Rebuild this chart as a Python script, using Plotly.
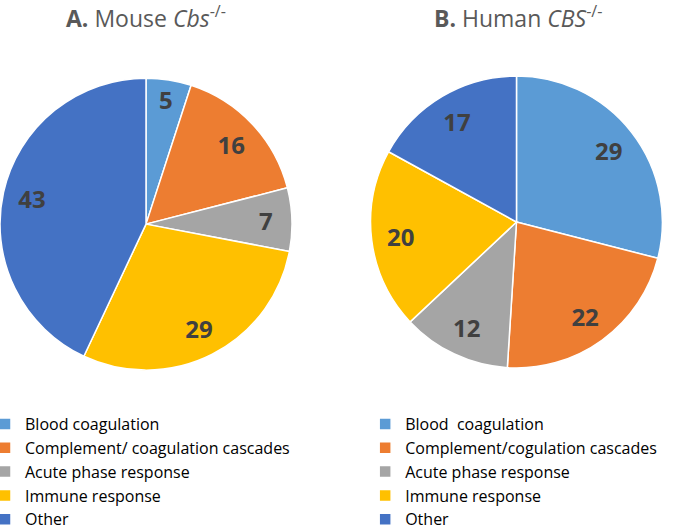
import plotly.graph_objects as go

labels_a = ["Blood coagulation", "Complement/ coagulation cascades", "Acute phase response", "Immune response", "Other"]
values_a = [5, 16, 7, 29, 43]
labels_b = ["Blood\u00a0 coagulation", "Complement/cogulation cascades", "Acute phase response ", "Immune response ", "Other "]
values_b = [29, 22, 12, 20, 17]
colors = ["#5B9BD5", "#ED7D31", "#A5A5A5", "#FFC000", "#4472C4"]

dom_a = dict(x=[0.0, 0.4263], y=[0.299, 0.852])
dom_b = dict(x=[0.541, 0.967], y=[0.303, 0.856])

fig = go.Figure()
base = dict(sort=False, direction="clockwise", rotation=0, hoverinfo="label+value")
# full pie: colours, white separators and legend entries
under = dict(base, textinfo="none",
             marker=dict(colors=colors, line=dict(color="white", width=1.5)))
# transparent ring on top: only carries the value labels out near the rim
ring = dict(base, hole=0.6, textinfo="value", textposition="inside",
            insidetextorientation="horizontal", showlegend=False,
            marker=dict(colors=["rgba(0,0,0,0)"] * len(colors), line=dict(width=0)),
            textfont=dict(family="Open Sans", size=24, color="#404040", weight="bold"))

fig.add_trace(go.Pie(labels=labels_a, values=values_a, legend="legend", domain=dom_a, **under))
fig.add_trace(go.Pie(labels=labels_a, values=values_a, legend="legend", domain=dom_a, **ring))
fig.add_trace(go.Pie(labels=labels_b, values=values_b, legend="legend2", domain=dom_b, **under))
fig.add_trace(go.Pie(labels=labels_b, values=values_b, legend="legend2", domain=dom_b, **ring))

legfont = dict(family="Open Sans", size=16, color="#000000")
fig.update_layout(
    width=685, height=528, margin=dict(l=0, r=0, t=0, b=0, autoexpand=False),
    paper_bgcolor="white", plot_bgcolor="white",
    legend=dict(x=-15/685, y=0.229, xanchor="left", yanchor="top", font=legfont,
                tracegroupgap=0, itemwidth=30, bgcolor="rgba(0,0,0,0)"),
    legend2=dict(x=0.555 - 15/685, y=0.229, xanchor="left", yanchor="top", font=legfont,
                 tracegroupgap=0, itemwidth=30, bgcolor="rgba(0,0,0,0)"),
    annotations=[
        dict(text="<b>A.</b> Mouse <i>Cbs</i><sup>-/-</sup>", x=146/685, y=1-17/528,
             xref="paper", yref="paper", xanchor="center", yanchor="middle", showarrow=False,
             font=dict(family="Open Sans", size=23, color="#595959")),
        dict(text="<b>B.</b> Human <i>CBS</i><sup>-/-</sup>", x=518/685, y=1-17/528,
             xref="paper", yref="paper", xanchor="center", yanchor="middle", showarrow=False,
             font=dict(family="Open Sans", size=23, color="#595959")),
    ],
)
fig.write_html("out.html", config={"displayModeBar": False},
               post_script="document.body.style.margin='0';")
